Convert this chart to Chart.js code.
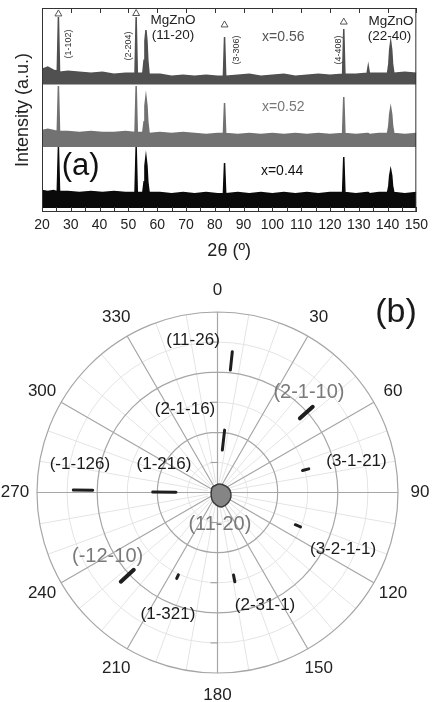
<!DOCTYPE html>
<html>
<head>
<meta charset="utf-8">
<script src="https://cdn.jsdelivr.net/npm/chart.js@4.4.0/dist/chart.umd.min.js"></script>
<style>
  html, body { margin: 0; padding: 0; background: #fff; }
  #wrap { position: relative; width: 433px; height: 702px; overflow: hidden; }
  #xrd { position: absolute; left: 0; top: 0; width: 433px; height: 262px; }
  #pole { position: absolute; left: 0; top: 262px; width: 433px; height: 440px; }
</style>
</head>
<body>
<div id="wrap">
  <canvas id="xrd" width="433" height="262"></canvas>
  <canvas id="pole" width="433" height="440"></canvas>
</div>
<script>
// ---- (a) 2theta scans ----
const twoTheta = [20, 22, 24, 25.3, 25.7, 26.1, 29, 33, 37, 41, 45, 49, 52.3, 52.7, 53.1,
  55.0, 55.45, 55.75, 56.1, 56.45, 56.75, 57.2, 61, 65, 69, 73, 77, 81, 83.0, 83.4, 83.8, 88, 92, 96, 100,
  104, 108, 112, 116, 120, 124.4, 124.8, 125.2, 129, 132.9, 133.3, 133.7, 137,
  140.0, 140.45, 140.75, 141.1, 141.45, 141.75, 142.2, 146, 150];
const int056 = [70, 71, 69.5, 69, 95.6, 68.5, 69, 68.5, 68, 68.5, 67.5, 68, 68, 95.6, 68,
  68, 74.4, 83.9, 89.2, 83.9, 74.4, 67.5, 67.5, 66.5, 67, 66.5, 67, 66.5, 66.5, 85.8, 66.5, 67, 67.5, 66.5, 67,
  67.5, 66.5, 67, 67.5, 67, 67.5, 89.7, 67.5, 67.5, 68, 71.5, 68, 68,
  68, 72.6, 79.5, 83.3, 79.5, 72.6, 68, 68.5, 68];
const int052 = [40, 40.5, 40, 39.5, 61.8, 39.5, 39.5, 39, 39.5, 39, 39, 39.5, 39, 61.8, 39,
  39, 44.2, 52.1, 56.4, 52.1, 44.2, 38.5, 39, 38.5, 39, 38.5, 38, 38.5, 38.5, 53.4, 38.5, 38, 38.5, 38, 38.5,
  38, 38.5, 38, 38.5, 38, 38.5, 56.4, 38.5, 38, 38.5, 38.5, 38, 38.5,
  38.5, 42.3, 47.9, 51, 47.9, 42.3, 38.5, 38, 38.5];
const int044 = [10.5, 10, 10.5, 10, 31.9, 10, 10, 9.5, 10, 9.5, 10, 9.5, 9.5, 31.9, 9.5,
  9.5, 14.8, 22.6, 27, 22.6, 14.8, 9.5, 9.5, 9, 9.5, 9, 9.5, 9, 9, 24, 9, 9.5, 9, 9.5, 9,
  9.5, 9, 9.5, 9, 9.5, 9.5, 27, 9.5, 9, 9.5, 9.5, 9, 9.5,
  9.5, 12.8, 17.8, 20.6, 17.8, 12.8, 9.5, 9, 9.5];
const floor056 = 62.5, floor052 = 31.9, floor044 = 2.0; // bottom of the noise band

const markX = [25.7, 52.7, 83.4, 124.8];   // sapphire reflections (triangles)
const markY = [97.1, 97.3, 91.7, 93.1];

const peakLabels = ['(1-102)', '(2-204)', '(3-306)', '(4-408)'];
const peakLabelX = [29.3, 50.0, 87.4, 123.1];
const peakLabelY = [82.4, 81.4, 79.4, 79.4];
const phaseLabels = ['MgZnO', '(11-20)', 'MgZnO', '(22-40)'];
const phaseLabelX = [65.5, 65.5, 141.2, 140.7];
const phaseLabelY = [94.1, 86.8, 93.6, 86.3];
const sampleLabels = ['x=0.56', 'x=0.52', 'x=0.44'];
const sampleLabelX = [103.8, 103.8, 103.4];
const sampleLabelY = [85.8, 51.2, 20.1];

// ---- (b) pole figure ----
const angleLabels = ['0', '30', '60', '90', '120', '150', '180', '210', '240', '270', '300', '330'];
const majorRings = [30, 60, 90];
const minorRings = [15, 45, 75];

const poleNames = ['(11-26)', '(2-1-16)', '(2-1-10)', '(3-1-21)', '(3-2-1-1)', '(2-31-1)', '(1-321)', '(-12-10)', '(-1-126)', '(1-216)'];
const polePhi = [6, 6.5, 48, 75.5, 112.5, 169, 205.4, 227.3, 271, 270.5];
const poleChiIn = [61.4, 21.3, 55.3, 43.8, 42.0, 41.9, 45.5, 56.8, 62.2, 20.7];
const poleChiOut = [70.6, 31.3, 63.9, 47.0, 44.8, 45.3, 47.4, 65.6, 71.9, 32.3];

const blobX = [-2.7, 0.7, 4.2, 6.2, 6.7, 5.2, 2.2, -0.7, -2.7, -3.2, -2.7];
const blobY = [2.7, 4.2, 3.2, 1.2, -2.2, -5.2, -7.2, -6.2, -3.7, -0.2, 2.7];

const blackLabels = ['(11-26)', '(2-1-16)', '(1-216)', '(-1-126)', '(3-1-21)', '(3-2-1-1)', '(1-321)', '(2-31-1)'];
const blackLabelX = [-12.2, -16.2, -26.7, -68.6, 69.3, 62.6, -24.7, 23.7];
const blackLabelY = [76.0, 41.4, 14.0, 14.0, 15.5, -28.4, -60.8, -56.3];
const grayLabels = ['(2-1-10)', '(11-20)', '(-12-10)'];
const grayLabelX = [45.6, 1.2, -54.8];
const grayLabelY = [50.1, -15.7, -31.9];

const FONT = '"Liberation Sans", Arial, Helvetica, sans-serif';
Chart.defaults.font.family = FONT;
Chart.defaults.color = '#222';

function text(ctx, str, px, py, size, color, rot) {
  ctx.save();
  ctx.font = size + 'px ' + FONT;
  ctx.fillStyle = color;
  ctx.textAlign = 'center';
  ctx.textBaseline = 'middle';
  ctx.translate(px, py);
  if (rot) ctx.rotate(rot);
  ctx.fillText(str, 0, 0);
  ctx.restore();
}

function trace(values, color, floor) {
  return {
    data: twoTheta.map((t, i) => ({ x: t, y: values[i] })),
    borderColor: color,
    backgroundColor: color,
    borderWidth: 1.5,
    fill: { value: floor },
    pointRadius: 0,
    tension: 0
  };
}

const xrdFrame = {
  id: 'xrdFrame',
  afterDatasetsDraw(chart) {
    const { ctx, chartArea: a, scales: { x, y } } = chart;
    ctx.save();
    ctx.strokeStyle = '#333';
    ctx.lineWidth = 1;
    ctx.strokeRect(a.left + 0.5, a.top + 0.5, a.right - a.left - 1, a.bottom - a.top - 1);
    ctx.beginPath();
    for (let v = 20; v <= 150; v += 5) {
      const px = Math.round(x.getPixelForValue(v)) + 0.5;
      ctx.moveTo(px, a.bottom);
      ctx.lineTo(px, a.bottom - 5);
      if (v % 10 === 0) {
        ctx.moveTo(px, a.top);
        ctx.lineTo(px, a.top + 5);
      }
    }
    ctx.stroke();
    ctx.restore();

    peakLabels.forEach((s, i) => text(ctx, s, x.getPixelForValue(peakLabelX[i]), y.getPixelForValue(peakLabelY[i]), 9, '#333', -Math.PI / 2));
    phaseLabels.forEach((s, i) => text(ctx, s, x.getPixelForValue(phaseLabelX[i]), y.getPixelForValue(phaseLabelY[i]), 13.5, '#222'));
    const sampleColors = ['#555', '#777', '#111'];
    sampleLabels.forEach((s, i) => text(ctx, s, x.getPixelForValue(sampleLabelX[i]), y.getPixelForValue(sampleLabelY[i]), 14, sampleColors[i]));
    text(ctx, '(a)', x.getPixelForValue(33.4), y.getPixelForValue(22.5), 31, '#111');
  }
};

new Chart(document.getElementById('xrd'), {
  type: 'line',
  data: {
    datasets: [
      {
        type: 'scatter',
        data: markX.map((v, i) => ({ x: v, y: markY[i] })),
        pointStyle: 'triangle',
        pointRadius: 4,
        borderWidth: 1,
        borderColor: '#555',
        backgroundColor: '#fff'
      },
      trace(int056, '#505050', floor056),
      trace(int052, '#727272', floor052),
      trace(int044, '#0a0a0a', floor044)
    ]
  },
  options: {
    responsive: false,
    animation: false,
    layout: { padding: { left: 0, right: 14, top: 8, bottom: 0 } },
    plugins: { legend: { display: false }, tooltip: { enabled: false } },
    scales: {
      x: {
        type: 'linear',
        min: 20,
        max: 150,
        grid: { display: false, drawTicks: false },
        border: { display: false },
        ticks: { stepSize: 10, autoSkip: false, maxRotation: 0, padding: 5, font: { size: 14 }, color: '#222' },
        title: { display: true, text: '2θ (º)', font: { size: 18 }, color: '#222', padding: { top: 0, bottom: 0 } },
        afterFit(s) { s.height = 50; }
      },
      y: {
        min: 0,
        max: 100,
        grid: { display: false, drawTicks: false },
        border: { display: false },
        ticks: { display: false },
        title: { display: true, text: 'Intensity (a.u.)', font: { size: 18 }, color: '#222', padding: { top: 12, bottom: 0 } },
        afterFit(s) { s.width = 42; }
      }
    }
  },
  plugins: [xrdFrame]
});

// polar helpers: phi clockwise from top, chi = radius
const toXY = (phi, chi) => ({ x: chi * Math.sin(phi * Math.PI / 180), y: chi * Math.cos(phi * Math.PI / 180) });

const polarGrid = {
  id: 'polarGrid',
  beforeDatasetsDraw(chart) {
    const { ctx, scales: { x, y } } = chart;
    const cx = x.getPixelForValue(0), cy = y.getPixelForValue(0);
    const rp = v => x.getPixelForValue(v) - cx;
    const spoke = (deg, r0, r1) => {
      const t = deg * Math.PI / 180;
      ctx.moveTo(cx + rp(r0) * Math.sin(t), cy - rp(r0) * Math.cos(t));
      ctx.lineTo(cx + rp(r1) * Math.sin(t), cy - rp(r1) * Math.cos(t));
    };
    ctx.save();
    ctx.lineWidth = 1;
    ctx.strokeStyle = '#e4e4e4';
    ctx.beginPath();
    minorRings.forEach(v => { ctx.moveTo(cx + rp(v), cy); ctx.arc(cx, cy, rp(v), 0, 2 * Math.PI); });
    for (let a = 0; a < 360; a += 10) if (a % 30 !== 0) spoke(a, 5, 90);
    ctx.stroke();
    ctx.strokeStyle = '#a6a6a6';
    ctx.lineWidth = 1.2;
    ctx.beginPath();
    majorRings.forEach(v => { ctx.moveTo(cx + rp(v), cy); ctx.arc(cx, cy, rp(v), 0, 2 * Math.PI); });
    for (let a = 0; a < 360; a += 30) spoke(a, 0, 90);
    ctx.stroke();
    ctx.strokeStyle = '#999';
    ctx.lineWidth = 1;
    ctx.beginPath();
    minorRings.forEach(v => {
      ctx.moveTo(cx - 7, cy - rp(v)); ctx.lineTo(cx, cy - rp(v));
      ctx.moveTo(cx - 7, cy + rp(v)); ctx.lineTo(cx, cy + rp(v));
    });
    ctx.stroke();
    ctx.restore();
  },
  afterDatasetsDraw(chart) {
    const { ctx, scales: { x, y } } = chart;
    angleLabels.forEach((s, i) => {
      const p = toXY(i * 30, 101);
      text(ctx, s, x.getPixelForValue(p.x), y.getPixelForValue(p.y), 17, '#222');
    });
    blackLabels.forEach((s, i) => text(ctx, s, x.getPixelForValue(blackLabelX[i]), y.getPixelForValue(blackLabelY[i]), 17, '#1a1a1a'));
    grayLabels.forEach((s, i) => text(ctx, s, x.getPixelForValue(grayLabelX[i]), y.getPixelForValue(grayLabelY[i]), 20, '#7a7a7a'));
    text(ctx, '(b)', x.getPixelForValue(89.0), y.getPixelForValue(89.5), 34, '#1a1a1a');
  }
};

const strongPoles = ['(2-1-10)', '(-12-10)'];
const poleSets = poleNames.map((name, i) => ({
  label: name,
  data: [toXY(polePhi[i], poleChiIn[i]), toXY(polePhi[i], poleChiOut[i])],
  showLine: true,
  borderColor: '#1e1e1e',
  borderWidth: strongPoles.includes(name) ? 4 : 3,
  borderCapStyle: 'round',
  pointRadius: 0
}));

new Chart(document.getElementById('pole'), {
  type: 'scatter',
  data: {
    datasets: [
      ...poleSets,
      {
        label: '(11-20)',
        data: blobX.map((v, i) => ({ x: v, y: blobY[i] })),
        showLine: true,
        fill: 'shape',
        borderColor: '#3a3a3a',
        backgroundColor: '#858585',
        borderWidth: 1.5,
        pointRadius: 0,
        tension: 0.3
      }
    ]
  },
  options: {
    responsive: false,
    animation: false,
    layout: { padding: { left: 37, right: 35, top: 50, bottom: 29 } },
    plugins: { legend: { display: false }, tooltip: { enabled: false } },
    scales: {
      x: { type: 'linear', display: false, min: -90, max: 90 },
      y: { type: 'linear', display: false, min: -90, max: 90 }
    }
  },
  plugins: [polarGrid]
});
</script>
</body>
</html>
